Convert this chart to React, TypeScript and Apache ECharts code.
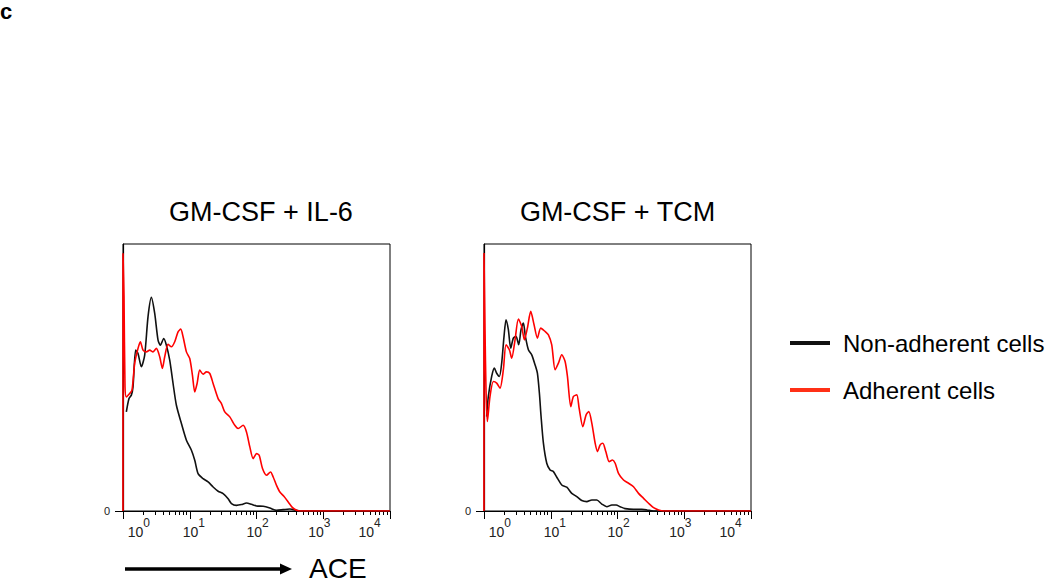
import React, { useEffect, useRef } from "react";
import * as echarts from "echarts";

// x = ACE intensity in decades (log10), y = relative cell count (% of panel height)
const panelTitles = ["GM-CSF + IL-6", "GM-CSF + TCM"];
const seriesNames = ["Non-adherent cells", "Adherent cells"];
const decadeTicks = [0, 1, 2, 3, 4];
const yTicks = [0];

const il6NonAdherent: number[][] = [
  [0.05, 37.1], [0.09, 42.1], [0.125, 43.4], [0.15, 46.5], [0.19, 60.3], [0.225, 59], [0.275, 54],
  [0.325, 58.4], [0.375, 72.8], [0.425, 80], [0.475, 74], [0.525, 64], [0.56, 62.1], [0.61, 64.6],
  [0.65, 62.1], [0.7, 56.5], [0.75, 47.75], [0.8, 39.6], [0.875, 32.75], [0.95, 26.5], [1.025, 22.75],
  [1.075, 19], [1.125, 14], [1.2, 12.1], [1.275, 10.9], [1.35, 9], [1.425, 7.4], [1.5, 6.5],
  [1.575, 4.6], [1.625, 2.75], [1.7, 2.1], [1.775, 2.4], [1.85, 3], [1.925, 2.5], [2.0, 1.9],
  [2.1, 1.75], [2.2, 1.1], [2.3, 0.25], [2.4, 0.5], [2.5, 0.75], [2.6, 0.25], [2.65, 0], [4, 0],
];

const il6Adherent: number[][] = [
  [0, 0], [0, 96.5], [0.015, 80.25], [0.03, 46.5], [0.05, 42.75], [0.1, 44], [0.135, 45.25],
  [0.175, 55.25], [0.225, 60.9], [0.26, 63.4], [0.3, 60.25], [0.35, 59.6], [0.4, 60.25], [0.45, 59.6],
  [0.5, 60.9], [0.55, 57.75], [0.59, 53.4], [0.625, 57.75], [0.675, 62.4], [0.725, 61.5], [0.775, 63.4],
  [0.825, 67.1], [0.865, 68.1], [0.9, 65.25], [0.95, 59.6], [1.0, 57.1], [1.04, 50.9], [1.075, 44.6],
  [1.11, 47.75], [1.15, 52.75], [1.2, 51.25], [1.25, 52.1], [1.3, 51.5], [1.35, 47.75], [1.425, 42.1],
  [1.475, 40.25], [1.525, 37.1], [1.6, 35.25], [1.675, 32.1], [1.725, 30.9], [1.8, 32.1], [1.85, 29.6],
  [1.9, 24], [1.95, 19.6], [2.0, 21.5], [2.04, 20.9], [2.09, 15.9], [2.15, 13.4], [2.21, 14.6],
  [2.25, 12.75], [2.3, 9.6], [2.35, 7.1], [2.41, 5.5], [2.475, 3.4], [2.54, 1.25], [2.6, 0.25],
  [2.65, 0], [4, 0],
];

const tcmNonAdherent: number[][] = [
  [0.04, 35.4], [0.065, 42.9], [0.115, 50.4], [0.155, 53.5], [0.19, 51.6], [0.23, 50.4], [0.265, 55.4],
  [0.3, 65.4], [0.33, 71.6], [0.365, 67.9], [0.4, 61], [0.44, 64.75], [0.48, 65.4], [0.52, 62.25],
  [0.555, 67.9], [0.59, 70.4], [0.62, 65.4], [0.665, 60.4], [0.715, 58.5], [0.765, 54.75], [0.8, 51.6],
  [0.83, 44.1], [0.855, 35.4], [0.89, 25.4], [0.94, 17.9], [0.99, 15.4], [1.04, 14.75], [1.1, 12.25],
  [1.165, 9.75], [1.24, 8.9], [1.315, 6.6], [1.39, 5.4], [1.465, 3.9], [1.54, 3.5], [1.615, 4.1],
  [1.69, 4.1], [1.765, 2.6], [1.84, 1.6], [1.915, 2.25], [1.98, 2.25], [2.04, 1.6], [2.115, 0.9],
  [2.24, 0.6], [2.365, 0.6], [2.44, 0.4], [2.54, 0], [4, 0],
];

const tcmAdherent: number[][] = [
  [0, 0], [0, 96.6], [0.015, 67.9], [0.03, 45.4], [0.05, 33.5], [0.09, 42.9], [0.14, 48.5], [0.19, 47.9],
  [0.24, 46], [0.29, 52.9], [0.33, 62.25], [0.38, 60.4], [0.415, 57.25], [0.465, 64.1], [0.515, 71.9],
  [0.565, 69.1], [0.605, 64.1], [0.65, 68.5], [0.7, 74.75], [0.75, 69.75], [0.8, 64.75], [0.85, 68.5],
  [0.915, 67.25], [0.965, 66], [1.015, 62.25], [1.065, 52.9], [1.115, 55.4], [1.165, 58.5], [1.215, 56],
  [1.25, 50.4], [1.3, 39.1], [1.34, 42.9], [1.39, 43.5], [1.425, 38.5], [1.48, 31.6], [1.53, 36],
  [1.57, 37.25], [1.615, 32.9], [1.665, 25.4], [1.7, 22.25], [1.74, 24.75], [1.78, 25.4], [1.825, 22.25],
  [1.875, 18.5], [1.925, 19.1], [1.965, 17.9], [2.015, 14.1], [2.09, 11.6], [2.165, 10.4], [2.24, 9.1],
  [2.315, 6.6], [2.39, 4.75], [2.465, 2.9], [2.54, 1.25], [2.615, 0.4], [2.69, 0], [4, 0],
];

const panels = [
  { nonAdherent: il6NonAdherent, adherent: il6Adherent },
  { nonAdherent: tcmNonAdherent, adherent: tcmAdherent },
];

const FONT = "'Liberation Sans', Arial, Helvetica, sans-serif";
const BLACK = "#111111";
const RED = "#ff0000";
const LEGEND_RED = "#ff3016";

// log-scale minor tick positions (2..9 within each decade)
const minorTicks: number[] = [];
for (let d = 0; d < 4; d++) {
  for (let k = 2; k <= 9; k++) minorTicks.push(d + Math.log10(k));
}

// horizontal shift of each decade label relative to its tick (px)
const labelShift = [15.8, 4, 1, -4, -20.5];

function buildRich() {
  const rich: Record<string, any> = {};
  decadeTicks.forEach((i) => {
    const s = labelShift[i];
    rich["b" + i] = {
      fontSize: 14,
      fontFamily: FONT,
      color: "#222",
      padding: [9, 0, 0, s > 0 ? 2 * s : 0],
    };
    rich["s" + i] = {
      fontSize: 12,
      fontFamily: FONT,
      color: "#222",
      padding: [0, s < 0 ? -2 * s : 0, 9, 0],
    };
  });
  return rich;
}

const grids = [
  { left: 123, top: 244, width: 267, height: 267 },
  { left: 484, top: 244, width: 267, height: 267 },
];

export default function App() {
  const ref = useRef<HTMLDivElement>(null);

  useEffect(() => {
    if (!ref.current) return;
    const chart = echarts.init(ref.current, undefined, { renderer: "svg" });
    const rich = buildRich();

    const xAxes: any[] = [];
    const yAxes: any[] = [];
    const series: any[] = [];

    grids.forEach((g, gi) => {
      xAxes.push({
        type: "value",
        gridIndex: gi,
        position: "bottom",
        min: 0,
        max: 4,
        axisLine: { show: true, lineStyle: { color: "#000", width: 1.2 } },
        axisTick: { show: true, customValues: decadeTicks, length: 8, lineStyle: { color: "#000", width: 1 } },
        axisLabel: {
          show: true,
          customValues: decadeTicks,
          margin: 5,
          formatter: (v: number) => {
            const i = Math.round(v);
            return `{b${i}|10}{s${i}|${i}}`;
          },
          rich,
        },
        splitLine: { show: false },
      });
      xAxes.push({
        type: "value",
        gridIndex: gi,
        position: "bottom",
        min: 0,
        max: 4,
        axisLine: { show: false },
        axisTick: { show: true, customValues: minorTicks, length: 4, lineStyle: { color: "#000", width: 1 } },
        axisLabel: { show: false },
        splitLine: { show: false },
      });
      yAxes.push({
        type: "value",
        gridIndex: gi,
        min: 0,
        max: 100,
        axisLine: { show: true, lineStyle: { color: "#000", width: 1.2 } },
        axisTick: { show: true, customValues: yTicks, length: 8, lineStyle: { color: "#000", width: 1 } },
        axisLabel: {
          show: true,
          customValues: yTicks,
          margin: 13,
          fontSize: 11,
          fontFamily: FONT,
          color: "#222",
          padding: [0, 0, 8, 0],
        },
        splitLine: { show: false },
      });
      const p = panels[gi];
      series.push({
        name: seriesNames[0],
        type: "line",
        xAxisIndex: gi * 2,
        yAxisIndex: gi,
        data: p.nonAdherent,
        showSymbol: false,
        smooth: 0.25,
        lineStyle: { color: BLACK, width: 1.6 },
        itemStyle: { color: BLACK },
        z: 3,
      });
      series.push({
        name: seriesNames[1],
        type: "line",
        xAxisIndex: gi * 2,
        yAxisIndex: gi,
        data: p.adherent,
        showSymbol: false,
        smooth: 0.25,
        lineStyle: { color: RED, width: 1.6 },
        itemStyle: { color: RED },
        z: 4,
      });
    });

    const option: any = {
      animation: false,
      backgroundColor: "#ffffff",
      grid: grids.map((g) => ({ ...g, show: true, borderColor: "#000", borderWidth: 1, backgroundColor: "transparent" })),
      xAxis: xAxes,
      yAxis: yAxes,
      series,
      legend: {
        orient: "vertical",
        left: 785,
        top: 324,
        icon: "rect",
        itemWidth: 40,
        itemHeight: 4,
        itemGap: 19,
        selectedMode: false,
        data: [
          { name: seriesNames[0], itemStyle: { color: BLACK } },
          { name: seriesNames[1], itemStyle: { color: LEGEND_RED } },
        ],
        textStyle: { fontSize: 24, fontFamily: FONT, color: "#000", lineHeight: 28, padding: [0, 0, 0, 8] },
      },
      graphic: [
        {
          type: "text",
          x: 0,
          y: 0,
          style: { text: "c", x: 0, y: 0, fontSize: 22, fontWeight: "bold", fontFamily: FONT, fill: "#000", verticalAlign: "top" },
        },
        {
          type: "text",
          x: 261,
          y: 212,
          style: { text: panelTitles[0], fontSize: 27, fontFamily: FONT, fill: "#000", align: "center", verticalAlign: "middle" },
        },
        {
          type: "text",
          x: 617.5,
          y: 212,
          style: { text: panelTitles[1], fontSize: 27, fontFamily: FONT, fill: "#000", align: "center", verticalAlign: "middle" },
        },
        {
          type: "line",
          shape: { x1: 125, y1: 569, x2: 283, y2: 569 },
          style: { stroke: "#000", lineWidth: 3.5 },
        },
        {
          type: "polygon",
          shape: { points: [[280, 563.5], [292, 569], [280, 574.5]] },
          style: { fill: "#000" },
        },
        {
          type: "text",
          x: 309,
          y: 568,
          style: { text: "ACE", fontSize: 28, fontFamily: FONT, fill: "#000", verticalAlign: "middle" },
        },
      ],
    };

    chart.setOption(option);
    return () => chart.dispose();
  }, []);

  return (
    <div
      ref={ref}
      style={{ position: "absolute", left: 0, top: 0, width: 1050, height: 584 }}
    />
  );
}
